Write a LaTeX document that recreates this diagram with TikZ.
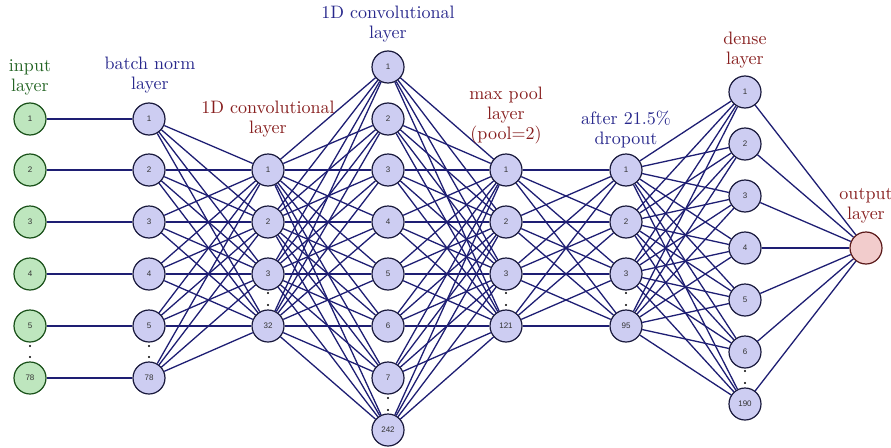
\documentclass[tikz,border=0pt]{standalone}
\usepackage{fontspec}
\newfontfamily\numfont{Liberation Sans}
\newfontfamily\lbfont{lmroman10-regular.otf}
\definecolor{edgec}{RGB}{30,30,115}
\definecolor{nodefill}{RGB}{205,205,242}
\definecolor{nodeline}{RGB}{25,25,60}
\definecolor{infill}{RGB}{190,230,190}
\definecolor{inline}{RGB}{25,80,25}
\definecolor{outfill}{RGB}{242,204,204}
\definecolor{outline}{RGB}{90,25,25}
\definecolor{tblue}{RGB}{40,40,140}
\definecolor{tred}{RGB}{135,30,30}
\definecolor{tgreen}{RGB}{35,100,35}
\tikzset{
  neuron/.style={circle,draw=nodeline,fill=nodefill,line width=1.2pt,minimum size=32pt,inner sep=0pt,font=\numfont\fontsize{8}{9}\selectfont,text=black!80},
  inneuron/.style={neuron,draw=inline,fill=infill},
  outneuron/.style={neuron,draw=outline,fill=outfill},
  conn/.style={draw=edgec,line width=1.3pt},
  lbl/.style={align=center,font=\lbfont\fontsize{18}{20}\selectfont},
  dotc/.style={circle,fill=black,inner sep=0pt,minimum size=2.4pt}
}
\begin{document}
\begin{tikzpicture}[x=1pt,y=-1pt]
\useasboundingbox (0,0) rectangle (891,447);
% input layer
\foreach \y/\t [count=\k] in {119/1,170/2,222/3,274/4,326/5,378/78}
  \node[inneuron] (i\k) at (30,\y) {\t};
% batch norm
\foreach \y/\t [count=\k] in {119/1,170/2,222/3,274/4,326/5,378/78}
  \node[neuron] (b\k) at (149,\y) {\t};
% conv 1
\foreach \y/\t [count=\k] in {170/1,222/2,274/3,326/32}
  \node[neuron] (c\k) at (268,\y) {\t};
% conv 2
\foreach \y/\t [count=\k] in {67/1,119/2,170/3,222/4,274/5,326/6,378/7,430/242}
  \node[neuron] (d\k) at (388,\y) {\t};
% max pool
\foreach \y/\t [count=\k] in {170/1,222/2,274/3,326/121}
  \node[neuron] (m\k) at (506,\y) {\t};
% dropout
\foreach \y/\t [count=\k] in {170/1,222/2,274/3,326/95}
  \node[neuron] (p\k) at (626,\y) {\t};
% dense
\foreach \y/\t [count=\k] in {92/1,144/2,196/3,248/4,300/5,352/6,404/190}
  \node[neuron] (e\k) at (745,\y) {\t};
% output
\node[outneuron] (o) at (866,248) {};
% connections
\foreach \k in {1,...,6} \draw[conn] (i\k) -- (b\k);
\foreach \a in {1,...,6} \foreach \b in {1,...,4} \draw[conn] (b\a) -- (c\b);
\foreach \a in {1,...,4} \foreach \b in {1,...,8} \draw[conn] (c\a) -- (d\b);
\foreach \a in {1,...,8} \foreach \b in {1,...,4} \draw[conn] (d\a) -- (m\b);
\foreach \a in {1,...,4} \foreach \b in {1,...,4} \draw[conn] (m\a) -- (p\b);
\foreach \a in {1,...,4} \foreach \b in {1,...,7} \draw[conn] (p\a) -- (e\b);
\foreach \a in {1,...,7} \draw[conn] (e\a) -- (o);
% dots
\foreach \x/\ya/\yb in {30/346/357,149/346/357,268/293/305,388/398/410,506/293/305,626/293/305,745/371/383}{
  \node[dotc] at (\x,\ya) {};
  \node[dotc] at (\x,\yb) {};
}
% labels
\node[lbl,text=tgreen] (Li) at (30,77) {input\\layer};
\node[lbl,text=tblue] (Lb) at (150,75) {batch norm\\layer};
\node[lbl,text=tred] (Lc) at (268,119) {1D convolutional\\layer};
\node[lbl,text=tblue] (Ld) at (388,24) {1D convolutional\\layer};
\node[lbl,text=tred] (Lm) at (506,116) {max pool\\layer\\(pool=2)};
\node[lbl,text=tblue] (Lp) at (626,129) {after 21.5\%\\dropout};
\node[lbl,text=tred] (Le) at (745,50) {dense\\layer};
\node[lbl,text=tred] (Lo) at (866,206) {output\\layer};
\end{tikzpicture}
\end{document}
